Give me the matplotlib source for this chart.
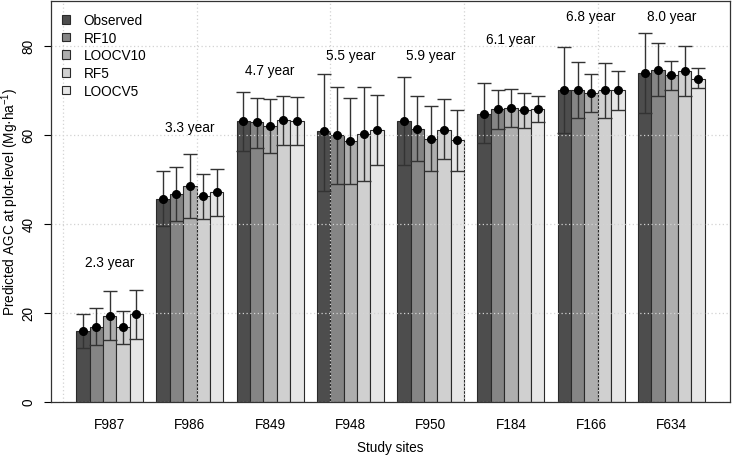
import matplotlib
matplotlib.use("Agg")
import numpy as np
import matplotlib.pyplot as plt
from matplotlib.patches import Patch

plt.rcParams["font.family"] = ["Liberation Sans", "DejaVu Sans"]
plt.rcParams["mathtext.fontset"] = "custom"
plt.rcParams["mathtext.rm"] = "Liberation Sans"
plt.rcParams["mathtext.it"] = "Liberation Sans:italic"

# ============================================================
# DADOS
# ============================================================

sites = ["F987", "F986", "F849", "F948", "F950", "F184", "F166", "F634"]
modelos = ["Observed", "RF10", "LOOCV10", "RF5", "LOOCV5"]
cores = ["#4d4d4d", "#858585", "#aeaeae", "#d0d0d0", "#e6e6e6"]

idade = ["2.3 year", "3.3 year", "4.7 year", "5.5 year",
         "5.9 year", "6.1 year", "6.8 year", "8.0 year"]
idade_y = [31.4, 61.6, 74.4, 77.9, 77.9, 81.5, 86.6, 86.6]

obs_media = [15.8, 45.6, 63.0, 60.7, 63.1, 64.7, 70.0, 73.9]
obs_sup   = [19.6, 51.8, 69.6, 73.7, 73.0, 71.5, 79.7, 82.9]
obs_inf   = [12.1, 39.4, 56.2, 47.4, 53.2, 58.0, 60.3, 64.9]

rf10_media = [16.8, 46.7, 62.7, 59.8, 61.3, 65.7, 70.0, 74.5]
rf10_sup   = [20.9, 52.8, 68.3, 70.6, 68.6, 70.0, 76.2, 80.6]
rf10_inf   = [12.7, 40.5, 56.9, 48.9, 54.0, 61.2, 63.7, 68.6]

loo10_media = [19.3, 48.4, 61.9, 58.5, 58.9, 66.0, 69.4, 73.3]
loo10_sup   = [24.9, 55.6, 68.0, 68.1, 66.4, 70.3, 73.6, 76.6]
loo10_inf   = [13.9, 41.3, 55.8, 48.9, 51.7, 61.6, 65.1, 70.0]

rf5_media = [16.7, 46.2, 63.2, 60.1, 61.0, 65.5, 70.0, 74.3]
rf5_sup   = [20.3, 51.1, 68.7, 70.6, 67.9, 69.3, 76.1, 79.9]
rf5_inf   = [13.0, 41.1, 57.6, 49.6, 54.4, 61.5, 63.8, 68.7]

loo5_media = [19.6, 47.1, 63.1, 61.0, 58.8, 65.8, 69.9, 72.5]
loo5_sup   = [25.1, 52.2, 68.4, 68.8, 65.5, 68.7, 74.2, 74.9]
loo5_inf   = [14.1, 41.7, 57.6, 53.1, 51.9, 62.9, 65.5, 70.4]

medias = [obs_media, rf10_media, loo10_media, rf5_media, loo5_media]
sups = [obs_sup, rf10_sup, loo10_sup, rf5_sup, loo5_sup]
infs = [obs_inf, rf10_inf, loo10_inf, rf5_inf, loo5_inf]

# ============================================================
# FIGURA
# ============================================================

fig = plt.figure(figsize=(7.32, 4.56), dpi=100)
ax = fig.add_axes([51 / 732, 53.5 / 456, 679 / 732, 400.5 / 456])

n_mod = len(modelos)
passo = n_mod + 1
base = np.arange(len(sites)) * passo + 1

for j, (nome, cor) in enumerate(zip(modelos, cores)):
    x = base + j + 0.5
    m = np.array(medias[j])
    ax.bar(x, m, width=1.0, color=cor, edgecolor="#2a2a2a", linewidth=0.8, zorder=1)

# grade pontilhada por cima das barras
for gx in [0, 10, 20, 30, 40]:
    ax.axvline(gx, color="#d3d3d3", linestyle=(0, (1, 2)), linewidth=0.9, zorder=2)
for gy in [0, 20, 40, 60, 80]:
    ax.axhline(gy, color="#d3d3d3", linestyle=(0, (1, 2)), linewidth=0.9, zorder=2)

for j in range(n_mod):
    x = base + j + 0.5
    m = np.array(medias[j])
    erro = [m - np.array(infs[j]), np.array(sups[j]) - m]
    ax.errorbar(x, m, yerr=erro, fmt="o", color="black", ecolor="#333333",
                elinewidth=1.0, capsize=5, capthick=1.0, markersize=5.5, zorder=4)

centros = base + n_mod / 2
for cx, txt, ty in zip(centros, idade, idade_y):
    ax.text(cx, ty, txt, ha="center", va="center", fontsize=9.8, zorder=5)

ax.set_xlim(-0.88, 49.88)
ax.set_ylim(0, 90)
ax.set_xticks(centros)
ax.set_xticklabels(sites, fontsize=9.8)
ax.tick_params(axis="x", length=0, pad=11)
ax.set_yticks([0, 20, 40, 60, 80])
ax.set_yticklabels(["0", "20", "40", "60", "80"], rotation=90, va="center", fontsize=9.8)
ax.tick_params(axis="y", length=5, pad=6)

ax.set_xlabel("Study sites", fontsize=9.8, labelpad=7)
ax.set_ylabel(r"Predicted AGC at plot-level (Mg·ha$^{-1}$)", fontsize=9.8)
ax.yaxis.set_label_coords(-0.044, 0.5)

for s in ax.spines.values():
    s.set_color("#333333")
    s.set_linewidth(0.9)

handles = [Patch(facecolor=c, edgecolor="#2a2a2a", linewidth=0.8) for c in cores]
ax.legend(handles, modelos, loc="upper left", bbox_to_anchor=(0.016, 0.970),
          frameon=False, fontsize=9.8, borderpad=0, borderaxespad=0,
          handlelength=0.6, handleheight=0.6, handletextpad=1.0, labelspacing=0.27)

fig.savefig("out.png", dpi=100)
